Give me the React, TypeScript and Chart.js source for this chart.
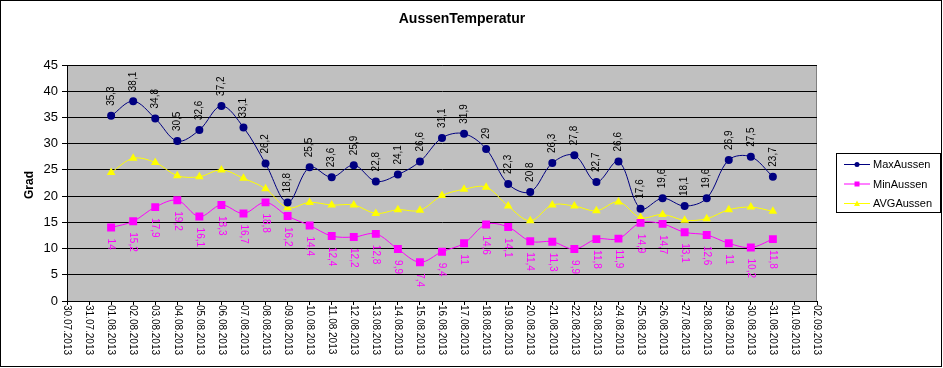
import React, { useEffect, useRef } from "react";
import { Chart, registerables } from "chart.js";

Chart.register(...registerables);

const dateLabels = [
  "30.07.2013", "31.07.2013", "01.08.2013", "02.08.2013", "03.08.2013", "04.08.2013", "05.08.2013",
  "06.08.2013", "07.08.2013", "08.08.2013", "09.08.2013", "10.08.2013", "11.08.2013", "12.08.2013",
  "13.08.2013", "14.08.2013", "15.08.2013", "16.08.2013", "17.08.2013", "18.08.2013", "19.08.2013",
  "20.08.2013", "21.08.2013", "22.08.2013", "23.08.2013", "24.08.2013", "25.08.2013", "26.08.2013",
  "27.08.2013", "28.08.2013", "29.08.2013", "30.08.2013", "31.08.2013", "01.09.2013", "02.09.2013",
];

const maxAussen = [
  null, null, 35.3, 38.1, 34.8, 30.5, 32.6, 37.2, 33.1, 26.2, 18.8, 25.5, 23.6, 25.9, 22.8, 24.1,
  26.6, 31.1, 31.9, 29, 22.3, 20.8, 26.3, 27.8, 22.7, 26.6, 17.6, 19.6, 18.1, 19.6, 26.9, 27.5, 23.7,
  null, null,
];

const minAussen = [
  null, null, 14, 15.2, 17.9, 19.2, 16.1, 18.3, 16.7, 18.8, 16.2, 14.4, 12.4, 12.2, 12.8, 9.9,
  7.4, 9.4, 11, 14.6, 14.1, 11.4, 11.3, 9.9, 11.8, 11.9, 14.9, 14.7, 13.1, 12.6, 11, 10.2, 11.8,
  null, null,
];

const avgAussen = [
  null, null, 24.5, 27.2, 26.4, 23.9, 23.7, 25.0, 23.4, 21.4, 17.8, 18.8, 18.3, 18.3, 16.7, 17.4,
  17.3, 20.1, 21.3, 21.7, 18.1, 15.3, 18.3, 18.1, 17.2, 18.9, 15.9, 16.5, 15.4, 15.7, 17.4, 17.9, 17.1,
  null, null,
];

const yTicks = [0, 5, 10, 15, 20, 25, 30, 35, 40, 45];

const NAVY = "#000080";
const MAGENTA = "#FF00FF";
const YELLOW = "#FFFF00";

const fmt = (v: number) => String(v).replace(".", ",");

const decorPlugin = {
  id: "decor",
  beforeDraw(chart: any) {
    const { ctx, chartArea: a } = chart;
    ctx.save();
    ctx.fillStyle = "#FFFFFF";
    ctx.fillRect(0, 0, chart.width, chart.height);
    ctx.fillStyle = "#C0C0C0";
    ctx.fillRect(a.left, a.top, a.right - a.left, a.bottom - a.top);
    ctx.strokeStyle = "#808080";
    ctx.lineWidth = 1;
    ctx.beginPath();
    ctx.moveTo(a.left, a.top + 0.5);
    ctx.lineTo(a.right - 0.5, a.top + 0.5);
    ctx.lineTo(a.right - 0.5, a.bottom);
    ctx.stroke();
    ctx.restore();
  },
  afterDraw(chart: any) {
    const { ctx } = chart;
    const xs = chart.scales.x;
    const a = chart.chartArea;
    ctx.save();
    // outer frame
    ctx.strokeStyle = "#000";
    ctx.lineWidth = 1;
    ctx.strokeRect(0.5, 0.5, 941, 366);

    // title
    ctx.fillStyle = "#000";
    ctx.font = "bold 14px Arial, 'Liberation Sans', sans-serif";
    ctx.textAlign = "center";
    ctx.textBaseline = "middle";
    ctx.fillText("AussenTemperatur", 462, 19);

    // y-axis title
    ctx.save();
    ctx.translate(30, 185);
    ctx.rotate(-Math.PI / 2);
    ctx.font = "bold 12px Arial, 'Liberation Sans', sans-serif";
    ctx.fillText("Grad", 0, 0);
    ctx.restore();

    // x labels (rotated, reading top to bottom)
    ctx.font = "10px Arial, 'Liberation Sans', sans-serif";
    ctx.textAlign = "left";
    ctx.textBaseline = "middle";
    dateLabels.forEach((lab, i) => {
      const x = xs.getPixelForValue(i);
      ctx.save();
      ctx.translate(x, a.bottom + 4);
      ctx.rotate(Math.PI / 2);
      ctx.fillText(lab, 0, 0);
      ctx.restore();
    });

    // data labels
    const m0 = chart.getDatasetMeta(0);
    const m1 = chart.getDatasetMeta(1);
    ctx.font = "10px Arial, 'Liberation Sans', sans-serif";
    m0.data.forEach((pt: any, i: number) => {
      const v = maxAussen[i];
      if (v === null) return;
      ctx.save();
      ctx.fillStyle = "#000";
      ctx.translate(pt.x, pt.y - 10);
      ctx.rotate(-Math.PI / 2);
      ctx.textAlign = "left";
      ctx.textBaseline = "middle";
      ctx.fillText(fmt(v), 0, 0);
      ctx.restore();
    });
    m1.data.forEach((pt: any, i: number) => {
      const v = minAussen[i];
      if (v === null) return;
      ctx.save();
      ctx.fillStyle = MAGENTA;
      ctx.translate(pt.x, pt.y + 11);
      ctx.rotate(Math.PI / 2);
      ctx.textAlign = "left";
      ctx.textBaseline = "middle";
      ctx.fillText(fmt(v), 0, 0);
      ctx.restore();
    });

    // legend
    ctx.strokeStyle = "#000";
    ctx.lineWidth = 1;
    ctx.strokeRect(836.5, 153.5, 104, 59);
    const entries = [
      { name: "MaxAussen", color: NAVY, style: "circle", y: 164 },
      { name: "MinAussen", color: MAGENTA, style: "rect", y: 183.5 },
      { name: "AVGAussen", color: YELLOW, style: "triangle", y: 203 },
    ];
    ctx.font = "11px Arial, 'Liberation Sans', sans-serif";
    entries.forEach((e) => {
      ctx.strokeStyle = e.color;
      ctx.fillStyle = e.color;
      ctx.beginPath();
      ctx.moveTo(844, e.y + 0.5);
      ctx.lineTo(870, e.y + 0.5);
      ctx.stroke();
      ctx.beginPath();
      if (e.style === "circle") {
        ctx.arc(857, e.y + 0.5, 2.5, 0, Math.PI * 2);
      } else if (e.style === "rect") {
        ctx.rect(854.5, e.y - 2, 5, 5);
      } else {
        ctx.moveTo(857, e.y - 2.5);
        ctx.lineTo(860, e.y + 3);
        ctx.lineTo(854, e.y + 3);
        ctx.closePath();
      }
      ctx.fill();
      ctx.fillStyle = "#000";
      ctx.textAlign = "left";
      ctx.textBaseline = "middle";
      ctx.fillText(e.name, 873, e.y + 1);
    });
    ctx.restore();
  },
};

export default function App() {
  const ref = useRef<HTMLCanvasElement | null>(null);
  useEffect(() => {
    document.body.style.margin = "0";
    const canvas = ref.current!;
    const chart = new Chart(canvas, {
      type: "line",
      data: {
        labels: dateLabels,
        datasets: [
          {
            label: "MaxAussen",
            data: maxAussen,
            borderColor: NAVY,
            backgroundColor: NAVY,
            borderWidth: 1,
            pointStyle: "circle",
            pointRadius: 4,
            pointBorderWidth: 0,
            tension: 0.35,
          },
          {
            label: "MinAussen",
            data: minAussen,
            borderColor: MAGENTA,
            backgroundColor: MAGENTA,
            borderWidth: 1,
            pointStyle: "rect",
            pointRadius: 5.6,
            pointBorderWidth: 0,
            tension: 0.35,
          },
          {
            label: "AVGAussen",
            data: avgAussen,
            borderColor: YELLOW,
            backgroundColor: YELLOW,
            borderWidth: 1,
            pointStyle: "triangle",
            pointRadius: 5,
            pointBorderWidth: 0,
            tension: 0.35,
          },
        ],
      },
      options: {
        responsive: false,
        animation: false,
        devicePixelRatio: 1,
        layout: { padding: { left: 0, top: 65, right: 126, bottom: 0 } },
        plugins: {
          legend: { display: false },
          title: { display: false },
          tooltip: { enabled: false },
        },
        scales: {
          x: {
            type: "category",
            offset: false,
            afterFit: (s: any) => {
              s.height = 67;
            },
            grid: {
              display: true,
              drawOnChartArea: false,
              drawTicks: true,
              tickLength: 4,
              tickColor: "#000",
              color: "#000",
            },
            border: { display: true, color: "#000", width: 1 },
            ticks: { display: false, autoSkip: false },
          },
          y: {
            min: 0,
            max: 45,
            afterFit: (s: any) => {
              s.width = 67;
            },
            afterBuildTicks: (s: any) => {
              s.ticks = yTicks.map((v) => ({ value: v }));
            },
            grid: {
              color: "#000",
              lineWidth: 1,
              drawTicks: true,
              tickLength: 5,
              tickColor: "#000",
            },
            border: { display: true, color: "#000", width: 1 },
            ticks: {
              color: "#000",
              font: { family: "Arial, 'Liberation Sans', sans-serif", size: 13 },
              padding: 4,
            },
          },
        },
      },
      plugins: [decorPlugin],
    });
    return () => chart.destroy();
  }, []);
  return (
    <div style={{ width: 943, height: 368 }}>
      <canvas ref={ref} width={943} height={368} style={{ display: "block" }} />
    </div>
  );
}
